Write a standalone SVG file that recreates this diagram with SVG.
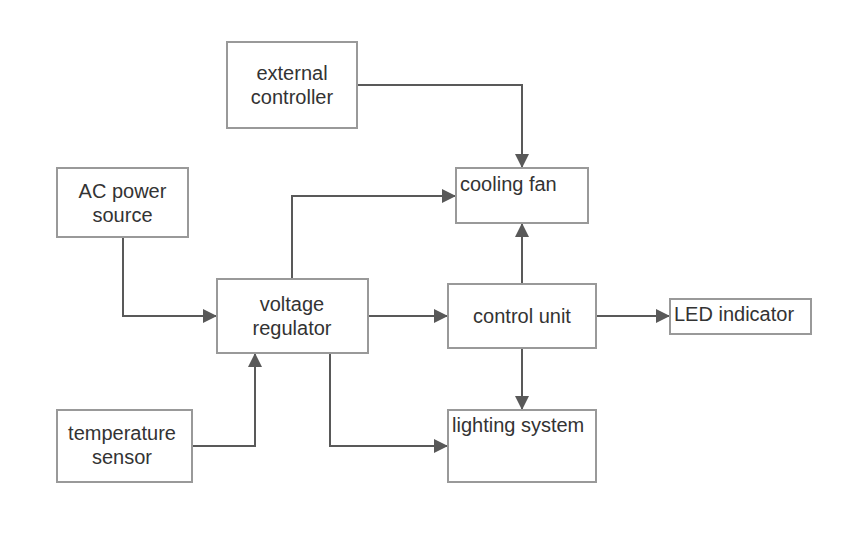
<svg xmlns="http://www.w3.org/2000/svg" width="847" height="543" viewBox="0 0 847 543">
<style>
.box{fill:#fff;stroke:#999;stroke-width:2}
.t{font-family:"Liberation Sans",Arial,sans-serif;font-size:20px;fill:#333}
.c{text-anchor:middle}
.ln{fill:none;stroke:#595959;stroke-width:2}
</style>
<defs>
<marker id="ah" markerWidth="14" markerHeight="14" refX="13" refY="7" orient="auto" markerUnits="userSpaceOnUse">
<path d="M0,0 L14,7 L0,14 Z" fill="#595959"/>
</marker>
</defs>
<rect width="847" height="543" fill="#fff"/>
<g id="connectors">
<path class="ln" d="M357,85 H522 V167" marker-end="url(#ah)"/>
<path class="ln" d="M292,279 V196 H455" marker-end="url(#ah)"/>
<path class="ln" d="M123,237 V316 H216" marker-end="url(#ah)"/>
<path class="ln" d="M368,316 H447" marker-end="url(#ah)"/>
<path class="ln" d="M522,284 V224" marker-end="url(#ah)"/>
<path class="ln" d="M596,316 H669" marker-end="url(#ah)"/>
<path class="ln" d="M522,348 V409" marker-end="url(#ah)"/>
<path class="ln" d="M330,353 V446 H447" marker-end="url(#ah)"/>
<path class="ln" d="M192,446 H255 V354" marker-end="url(#ah)"/>
</g>
<g id="external-controller">
<rect class="box" x="227" y="42" width="130" height="86"/>
<text class="t c" x="292" y="80">external</text>
<text class="t c" x="292" y="104">controller</text>
</g>
<g id="cooling-fan">
<rect class="box" x="456" y="168" width="132" height="55"/>
<text class="t" x="460" y="191">cooling fan</text>
</g>
<g id="ac-power-source">
<rect class="box" x="57" y="168" width="131" height="69"/>
<text class="t c" x="122.5" y="198">AC power</text>
<text class="t c" x="122.5" y="222">source</text>
</g>
<g id="voltage-regulator">
<rect class="box" x="217" y="279" width="151" height="74"/>
<text class="t c" x="292" y="311">voltage</text>
<text class="t c" x="292" y="335">regulator</text>
</g>
<g id="control-unit">
<rect class="box" x="448" y="284" width="148" height="64"/>
<text class="t c" x="522" y="323">control unit</text>
</g>
<g id="led-indicator">
<rect class="box" x="670" y="299" width="141" height="35"/>
<text class="t" x="674" y="321">LED indicator</text>
</g>
<g id="lighting-system">
<rect class="box" x="448" y="410" width="148" height="72"/>
<text class="t" x="452" y="432">lighting system</text>
</g>
<g id="temperature-sensor">
<rect class="box" x="57" y="410" width="135" height="72"/>
<text class="t c" x="122" y="440">temperature</text>
<text class="t c" x="122" y="464">sensor</text>
</g>
</svg>
